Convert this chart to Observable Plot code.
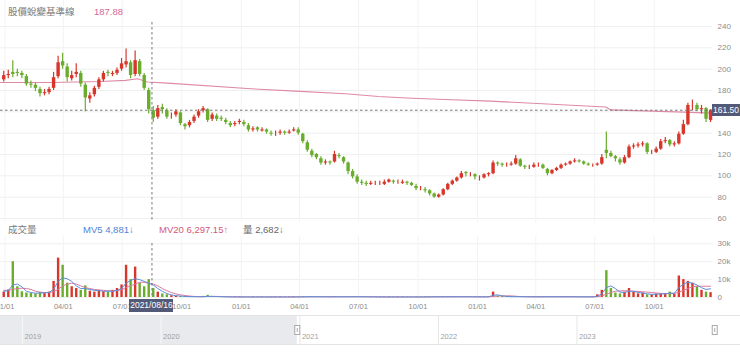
<!DOCTYPE html>
<html><head><meta charset="utf-8">
<script src="https://cdn.jsdelivr.net/npm/d3@7"></script>
<script src="https://cdn.jsdelivr.net/npm/@observablehq/plot@0.6"></script>
<style>
html,body{margin:0;padding:0;background:#fff;}
#wrap{position:relative;width:740px;height:359px;overflow:hidden;font-family:"Liberation Sans","Noto Sans CJK TC",sans-serif;}
.abs{position:absolute;white-space:nowrap;}
</style></head><body><div id="wrap"></div>
<script>
// ---- data (weekly candles) ----
const weekDates = d3.utcWednesday.range(new Date("2020-12-30"), new Date("2023-12-28"));
const open = [
190,194,197,197,196,193,186,185,181,177,
178,182,193,207,202,191,195,196,185,172,
176,183,190,197,195,196,200,204,206,195,
207,194,180,161,155,164,161,156,157,159,
148,147,151,156,161,162,153,156,154,152,
149,148,150,150,147,143,145,142,143,140,
139,140,141,140,142,143,139,131,123,120,
116,112,113,113,119,117,112,104,99,94,
93,92,93,93,92,94,95,94,93,94,
93,90,88,87,86,83,80,82,87,92,
95,98,103,101,101,98,98,101,102,112,
111,110,110,111,115,109,108,108,110,110,
106,102,105,107,110,111,113,114,113,111,
110,110,111,124,121,118,115,112,117,127,
128,129,130,122,122,125,132,133,129,130,
139,148,166,166,162,163,152];
const high = [
198,199,208,200,198,195,189,187,183,181,
183,197,212,215,205,198,205,198,187,178,
184,192,198,199,198,201,210,219,208,217,
209,196,182,165,166,167,163,159,162,160,
149,152,157,162,165,163,159,158,156,154,
151,151,153,152,149,146,146,145,144,142,
142,143,142,143,145,145,140,133,125,121,
118,115,114,123,121,118,113,106,101,96,
95,95,95,95,96,97,96,96,96,95,
94,92,90,89,87,84,83,88,93,96,
99,104,104,103,102,100,102,103,114,113,
112,112,113,119,116,110,110,112,112,111,
107,106,108,111,112,114,116,115,114,112,
111,112,120,141,123,119,117,119,129,130,
131,132,131,124,127,134,136,134,132,141,
152,168,171,168,166,164,162];
const low = [
188,191,192,193,191,184,182,179,174,175,
176,180,191,200,188,189,192,183,160,168,
174,181,188,193,193,194,198,201,191,193,
193,180,158,150,153,158,153,153,155,147,
143,145,149,154,159,150,151,151,151,148,
145,146,148,146,141,141,141,141,139,137,
137,138,138,139,141,138,130,122,117,115,
110,110,110,112,116,111,101,97,92,91,
90,91,91,91,91,93,92,92,92,91,
90,86,86,84,81,79,79,81,86,91,
94,97,99,99,96,95,97,99,101,109,
108,108,109,110,108,106,106,107,108,106,
100,101,104,106,109,110,112,112,110,109,
108,109,110,116,117,113,110,111,116,125,
126,127,120,120,121,124,130,127,127,129,
138,147,161,160,158,150,150];
const close = [
194,195,195,196,194,186,185,182,177,178,
181,192,206,203,192,194,197,186,173,175,
182,190,196,196,196,199,205,207,194,208,
195,182,162,154,163,162,155,156,160,149,
146,150,155,160,163,152,157,153,153,150,
147,149,151,148,143,144,143,143,141,139,
139,141,140,141,143,140,132,124,119,117,
112,113,112,120,118,113,104,99,94,93,
92,93,93,93,94,96,94,94,94,93,
91,88,88,86,83,80,82,87,92,95,
98,102,102,101,99,98,101,102,112,111,
110,110,111,116,109,108,108,110,110,107,
102,105,107,110,111,113,114,113,111,110,
110,111,117,121,118,116,112,117,127,128,
129,130,122,122,125,132,133,129,130,139,
148,166,166,162,163,153,161.5];
const volume = [
3000,4200,20000,6000,3200,2500,2200,2000,2800,2200,
3000,9000,22000,18000,8000,6000,5000,4000,6500,3500,
3000,4000,3200,3000,4000,5000,7000,18000,10000,17000,
8000,6000,10000,5000,3000,2000,1500,1000,800,600,
500,450,400,400,600,1200,500,400,350,350,
300,300,350,300,300,300,300,280,300,300,
300,300,300,300,350,350,400,450,500,400,
400,350,350,450,400,350,400,450,450,400,
350,350,300,300,300,300,300,300,300,300,
300,300,300,350,400,400,350,400,400,400,
400,450,400,350,350,350,350,400,3000,800,
600,500,400,500,450,400,350,350,400,350,
500,400,400,400,400,400,350,350,350,350,
350,1500,4000,15000,5000,2500,2000,3000,5000,3000,
2000,2500,1500,1500,2000,2000,2000,3000,2000,12000,
10000,9000,8000,6000,4000,3000,2682];
const mv5 = [
3500,3800,7000,7500,6000,3500,2800,2400,2500,2600,
2800,4500,9000,11000,10500,9000,6500,5000,5000,4500,
4000,3800,3500,3500,3500,4000,5000,8000,9500,10500,
10000,9000,8000,7000,5000,3500,2200,1500,1000,800,
600,500,450,420,450,650,650,550,450,380,
330,320,320,310,300,300,300,290,290,300,
300,300,300,300,320,340,370,420,450,430,
410,380,360,400,400,380,390,420,430,420,
380,360,330,310,300,300,300,300,300,300,
300,300,300,330,370,390,380,390,400,400,
400,420,420,380,360,350,350,380,1200,1500,
900,600,450,480,460,420,380,360,380,370,
430,420,410,400,400,400,370,360,350,350,
350,700,2000,5500,6500,5000,3000,2800,3500,3500,
2800,2500,2000,1800,1800,2000,2000,2500,2400,5500,
7500,8500,8000,7000,5500,4500,4881];
const mv20 = [
4000,4000,4500,5000,5200,5000,4500,3500,3000,2800,
2800,3200,4500,6500,7500,8000,7500,6500,5500,5000,
4500,4200,4000,3800,3600,3800,4300,5500,6500,7500,
8500,8500,8000,7500,6500,5000,3800,2800,2000,1500,
1100,800,600,500,480,550,600,600,550,450,
400,360,340,320,310,300,300,300,300,300,
300,300,300,300,300,310,330,360,390,410,
420,410,400,400,400,400,400,400,410,410,
400,390,370,350,330,310,300,300,300,300,
300,300,300,310,320,340,360,380,390,390,
390,400,400,400,390,380,370,370,600,800,
900,950,900,700,500,450,420,400,390,380,
390,400,400,400,400,400,390,380,370,360,
355,450,800,1800,2800,3500,3700,3800,3700,3500,
3400,3200,3000,2800,2500,2300,2200,2200,2200,3000,
4000,5000,6000,6297,6300,6300,6297];
const baseDates = ["2020-12-25","2021-03-12","2021-05-29","2021-07-06","2021-07-25","2021-08-09","2021-09-09","2022-01-16","2022-03-26","2022-06-11","2022-08-01","2022-09-22","2022-11-12","2023-01-21","2023-07-18","2023-07-26","2023-11-16","2023-12-27"];
const baseValues = [187.5,187.5,188.5,189.5,191,188,186.9,181.6,179.4,176.9,174.4,172.8,171.6,170,164.5,161.8,159.7,158.8];
const priceGrid = [60,80,100,120,140,160,180,200,220,240];
const priceTickLabels = [60,80,100,120,140,180,200,220,240];
const volTicks = [0,10000,20000,30000];
const volTickLabels = ["0","10k","20k","30k"];
const quarterTicks = ["2021-01-01","2021-04-01","2021-07-01","2021-10-01","2022-01-01","2022-04-01","2022-07-01","2022-10-01","2023-01-01","2023-04-01","2023-07-01","2023-10-01"];
const yearTicks = ["2019-01-01","2020-01-01","2021-01-01","2022-01-01","2023-01-01"];
const viewRange = ["2020-12-25","2023-12-30"];
const navRange = ["2019-01-01","2024-01-01"];
const crossDate = "2021-08-16";
const lastPrice = 161.50;
const titleText = "股價蛻變基準線", titleValue = "187.88";
const volHeader = ["成交量", "MV5 4,881↓", "MV20 6,297.15↑", "量 2,682↓"];

// ---- build ----
const UP = "#d9362b", DOWN = "#6aad2d", GRID = "#efefef", AX = "#8c8c8c";
const P = s => new Date(s);
const candles = weekDates.map((date, i) => ({
  date, open: open[i], high: high[i], low: low[i], close: close[i],
  volume: volume[i], mv5: mv5[i], mv20: mv20[i],
  color: close[i] >= open[i] ? UP : DOWN
}));
const baseline = baseDates.map((d, i) => ({date: P(d), value: baseValues[i]}));
const qDates = quarterTicks.map(P), yDates = yearTicks.map(P);
const xDomain = viewRange.map(P);
const font = '"Liberation Sans","Noto Sans CJK TC",sans-serif';
const wrap = document.getElementById("wrap");

function place(el, top, left) {
  el.style.position = "absolute"; el.style.top = top + "px"; el.style.left = (left || 0) + "px";
  wrap.appendChild(el); return el;
}
function label(text, left, top, color, size) {
  const d = document.createElement("div");
  d.className = "abs"; d.textContent = text;
  d.style.cssText += `left:${left}px;top:${top}px;color:${color};font-size:${size}px;line-height:${size + 2}px;`;
  wrap.appendChild(d); return d;
}

// price panel
const price = Plot.plot({
  width: 740, height: 222, marginLeft: 0, marginRight: 28, marginTop: 0, marginBottom: 0,
  style: {background: "transparent", fontFamily: font, overflow: "visible"},
  color: {type: "identity"},
  x: {type: "utc", domain: xDomain, axis: null},
  y: {domain: [56.25, 264.375], axis: null},
  marks: [
    Plot.ruleY(priceGrid, {stroke: GRID}),
    Plot.ruleX(qDates, {stroke: "#f3f3f3"}),
    Plot.axisY(priceTickLabels, {anchor: "right", tickSize: 0, tickPadding: 5, textAnchor: "start", fill: AX, fontSize: 8}),
    Plot.line(baseline, {x: "date", y: "value", stroke: "#de8aa4", strokeWidth: 1.1}),
    Plot.ruleX(candles, {x: "date", y1: "low", y2: "high", stroke: "color", strokeWidth: 1.2}),
    Plot.ruleX(candles, {x: "date", y1: "open", y2: "close", stroke: "color", strokeWidth: 3.4}),
    Plot.ruleY([lastPrice], {stroke: "#777", strokeDasharray: "2.5,2.5"}),
    Plot.ruleX([P(crossDate)], {stroke: "#777", strokeDasharray: "2.5,2.5", insetTop: 22})
  ]
});
place(price, 0);

// volume panel
const vol = Plot.plot({
  width: 740, height: 80, marginLeft: 0, marginRight: 28, marginTop: 0, marginBottom: 16,
  style: {background: "transparent", fontFamily: font, overflow: "visible"},
  color: {type: "identity"},
  x: {type: "utc", domain: xDomain, axis: null},
  y: {domain: [-1676, 34078], axis: null},
  marks: [
    Plot.ruleY(volTicks, {stroke: GRID}),
    Plot.ruleX(qDates, {stroke: "#f3f3f3"}),
    Plot.axisY(volTicks, {anchor: "right", tickSize: 0, tickPadding: 5, textAnchor: "start", fill: AX, fontSize: 8,
      tickFormat: d => volTickLabels[volTicks.indexOf(d)]}),
    Plot.ruleX(candles, {x: "date", y1: 0, y2: "volume", stroke: "color", strokeWidth: 2.4}),
    Plot.line(candles, {x: "date", y: "mv20", stroke: "#d97aa0", strokeWidth: 1}),
    Plot.line(candles, {x: "date", y: "mv5", stroke: "#5a8fdc", strokeWidth: 1}),
    Plot.ruleX([P(crossDate)], {stroke: "#777", strokeDasharray: "2.5,2.5", insetTop: 7, insetBottom: 3}),
    Plot.axisX(qDates, {anchor: "bottom", tickSize: 0, tickPadding: 3, fill: AX, fontSize: 7.5,
      tickFormat: d3.utcFormat("%m/%d")})
  ]
});
place(vol, 236);

// navigator
const navBox = document.createElement("div");
navBox.style.cssText = "height:28px;width:740px;border-top:1px solid #e4e4e4;border-bottom:1px solid #e4e4e4;";
place(navBox, 315);
const nav = Plot.plot({
  width: 740, height: 28, marginLeft: 22, marginRight: 25, marginTop: 0, marginBottom: 0,
  style: {background: "transparent", fontFamily: font, overflow: "visible"},
  color: {type: "identity"},
  x: {type: "utc", domain: navRange.map(P), axis: null},
  y: {axis: null},
  marks: [
    Plot.rect([{a: P("2018-09-01"), b: xDomain[0]}], {x1: "a", x2: "b", fill: "#e8eaed"}),
    Plot.ruleX(yDates, {stroke: d => d < xDomain[0] ? "#f6f7f8" : "#e6e6e6"}),
    Plot.text(yDates, {x: d => d, text: d => String(d.getUTCFullYear()), frameAnchor: "bottom", dy: -6, dx: 2,
      textAnchor: "start", fill: "#a0a0a0", fontSize: 7.5}),
    Plot.ruleX(xDomain, {stroke: "#a9a9a9", strokeWidth: 6, insetTop: 9, insetBottom: 9}),
    Plot.ruleX(xDomain, {stroke: "#ffffff", strokeWidth: 4, insetTop: 10, insetBottom: 10}),
    Plot.ruleX(xDomain, {stroke: "#a9a9a9", strokeWidth: 1, insetTop: 12, insetBottom: 12})
  ]
});
navBox.appendChild(nav);

// titles / labels
label(titleText, 8, 6, "#7a7a7a", 9.5);
label(titleValue, 94, 6, "#d4689a", 9.5);
label(volHeader[0], 8, 224, "#7a7a7a", 9.5);
label(volHeader[1], 83, 224, "#4f82d6", 9.5);
label(volHeader[2], 159, 224, "#d2587c", 9.5);
label(volHeader[3], 243, 224, "#666", 9.5);

// last price badge
const py = price.scale("y").apply(lastPrice);
const badge = label(lastPrice.toFixed(2), 712, py - 6, "#fff", 8.5);
badge.style.cssText += "background:#525a78;width:28px;height:12px;line-height:12px;text-align:center;";

// crosshair date badge
const cx = vol.scale("x").apply(P(crossDate));
const dbadge = label(crossDate.replace(/-/g, "/"), cx - 22, 299, "#fff", 8.5);
dbadge.style.cssText += "background:#525a78;width:44px;height:13px;line-height:13px;text-align:center;";
</script></body></html>
